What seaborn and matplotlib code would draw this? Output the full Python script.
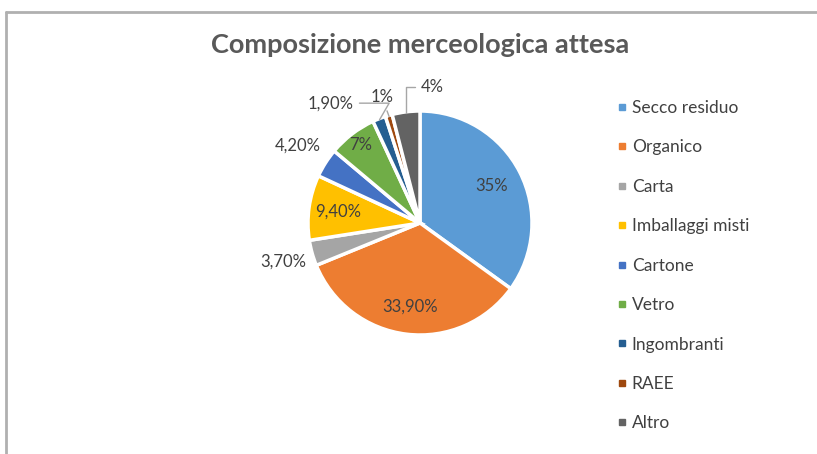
import numpy as np
import matplotlib
matplotlib.use("Agg")
import matplotlib.pyplot as plt
from matplotlib.lines import Line2D
import seaborn as sns

categorie = ["Secco residuo", "Organico", "Carta", "Imballaggi misti", "Cartone",
             "Vetro", "Ingombranti", "RAEE", "Altro"]
valori = [35, 33.9, 3.7, 9.4, 4.2, 7, 1.9, 1, 4]
etichette = ["35%", "33,90%", "3,70%", "9,40%", "4,20%", "7%", "1,90%", "1%", "4%"]
colori = ["#5B9BD5", "#ED7D31", "#A5A5A5", "#FFC000", "#4472C4",
          "#70AD47", "#255E91", "#9E480E", "#636363"]

sns.set_theme(style="white")
plt.rcParams["font.family"] = ["Lato", "DejaVu Sans"]
testo = "#404040"

W, H = 817, 454
fig = plt.figure(figsize=(W / 100, H / 100), dpi=100)

# centro torta (px) e raggio
cx, cy, R = 420, 223, 112
s = 200
ax = fig.add_axes([(cx - s) / W, (H - cy - s) / H, 2 * s / W, 2 * s / H])

wedges, _ = ax.pie(valori, colors=colori, startangle=90, counterclock=False,
                   radius=1, wedgeprops=dict(edgecolor="white", linewidth=2.5))
ax.set_xlim(-s / R, s / R)
ax.set_ylim(-s / R, s / R)
ax.set_aspect("equal")
ax.axis("off")

# angoli medi
cum = np.cumsum([0] + valori)
tot = cum[-1]
mid = [90 - 360 * (cum[i] + cum[i + 1]) / 2 / tot for i in range(len(valori))]

interni = {0: 0.72, 1: 0.75, 3: 0.74, 5: 0.88}
esterni = {2: 1.27, 4: 1.29}
for i, lab in enumerate(etichette):
    a = np.deg2rad(mid[i])
    if i in interni:
        r = interni[i]
        ax.text(r * np.cos(a), r * np.sin(a), lab, ha="center", va="center",
                fontsize=12, color=testo)
    elif i in esterni:
        r = esterni[i]
        ax.text(r * np.cos(a), r * np.sin(a), lab, ha="center", va="center",
                fontsize=12, color=testo)

# etichette con linea guida
guida = {6: ((-0.80, 1.07), "angle,angleA=0,angleB=60"),
         7: ((-0.34, 1.125), "arc3"),
         8: ((0.11, 1.215), "angle,angleA=0,angleB=90")}
for i, (pos, conn) in guida.items():
    a = np.deg2rad(mid[i])
    ax.annotate(etichette[i], xy=(0.99 * np.cos(a), 0.99 * np.sin(a)), xytext=pos,
                ha="center", va="center", fontsize=12, color=testo,
                arrowprops=dict(arrowstyle="-", color="#A6A6A6", lw=1,
                                connectionstyle=conn, shrinkA=2, shrinkB=0))

fig.text(cx / W, 1 - 45 / H, "Composizione merceologica attesa", ha="center",
         va="center", fontsize=19.5, fontweight="bold", color="#595959")

handles = [Line2D([], [], marker="s", linestyle="none", markersize=5,
                  markerfacecolor=c, markeredgecolor=c) for c in colori]
fig.legend(handles, categorie, loc="upper left", bbox_to_anchor=(610 / W, 1 - 93 / H),
           frameon=False, fontsize=12.5, labelcolor=testo, handlelength=0.6,
           handletextpad=0.25, labelspacing=1.35, borderaxespad=0)

# cornice del grafico
fig.add_artist(Line2D([6 / W, 6 / W], [0, 1 - 12 / H], color="#B0B0B0", lw=2,
                      transform=fig.transFigure))
fig.add_artist(Line2D([6 / W, 1], [1 - 12 / H, 1 - 12 / H], color="#B0B0B0", lw=2,
                      transform=fig.transFigure))

fig.savefig("out.png", dpi=100)
